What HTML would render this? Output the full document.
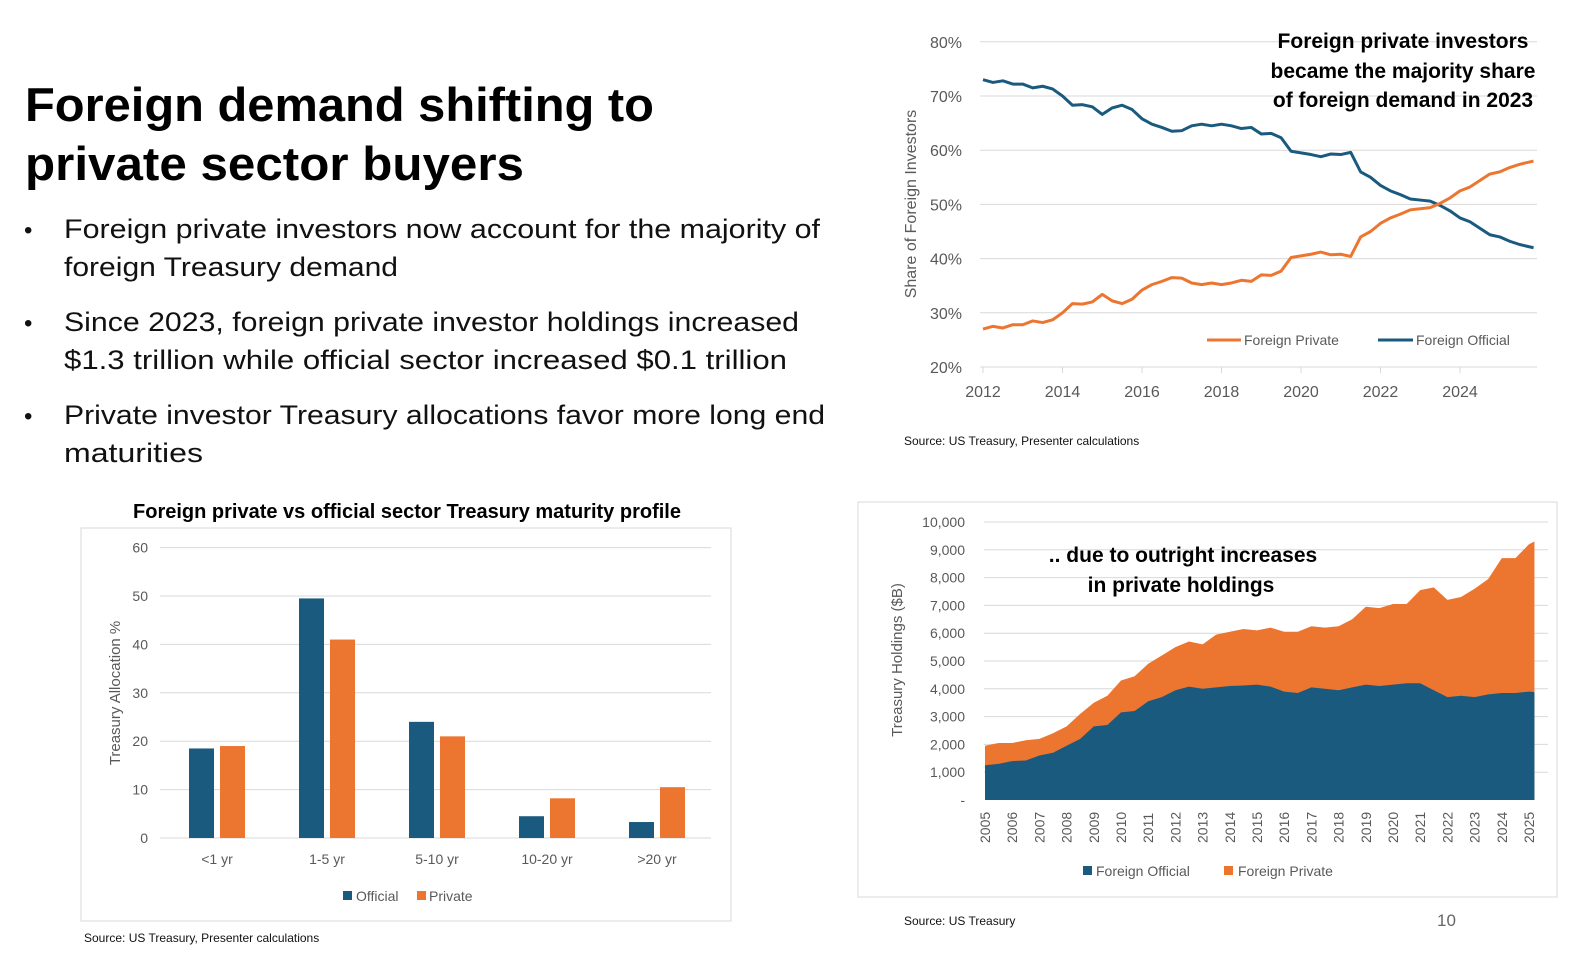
<!DOCTYPE html>
<html><head><meta charset="utf-8"><style>
html,body{margin:0;padding:0;background:#fff;}
svg{display:block;font-family:"Liberation Sans",Arial,sans-serif;}
</style></head><body>
<svg id="page" width="1582" height="960" viewBox="0 0 1582 960">
<g font-weight="bold" font-size="47" fill="#000">
<text x="25" y="121" textLength="629" lengthAdjust="spacingAndGlyphs">Foreign demand shifting to</text>
<text x="25" y="180" textLength="499" lengthAdjust="spacingAndGlyphs">private sector buyers</text>
</g>
<g font-size="27" fill="#111">
<text x="24" y="238" font-size="24">•</text>
<text x="64" y="238" textLength="756" lengthAdjust="spacingAndGlyphs">Foreign private investors now account for the majority of</text>
<text x="64" y="276" textLength="334" lengthAdjust="spacingAndGlyphs">foreign Treasury demand</text>
<text x="24" y="331" font-size="24">•</text>
<text x="64" y="331" textLength="735" lengthAdjust="spacingAndGlyphs">Since 2023, foreign private investor holdings increased</text>
<text x="64" y="369" textLength="723" lengthAdjust="spacingAndGlyphs">$1.3 trillion while official sector increased $0.1 trillion</text>
<text x="24" y="424" font-size="24">•</text>
<text x="64" y="424" textLength="761" lengthAdjust="spacingAndGlyphs">Private investor Treasury allocations favor more long end</text>
<text x="64" y="462" textLength="139" lengthAdjust="spacingAndGlyphs">maturities</text>
</g>

<g id="lineChart"></g>
<g id="barChart"></g>
<g id="areaChart"></g>
<text x="1437" y="926" font-size="17" fill="#666">10</text>
</svg>
<script>
// ---- Line chart data ----
const lineYears = [2012,2012.25,2012.5,2012.75,2013,2013.25,2013.5,2013.75,2014,2014.25,2014.5,2014.75,2015,2015.25,2015.5,2015.75,2016,2016.25,2016.5,2016.75,2017,2017.25,2017.5,2017.75,2018,2018.25,2018.5,2018.75,2019,2019.25,2019.5,2019.75,2020,2020.25,2020.5,2020.75,2021,2021.25,2021.5,2021.75,2022,2022.25,2022.5,2022.75,2023,2023.25,2023.5,2023.75,2024,2024.25,2024.5,2024.75,2025,2025.25,2025.5,2025.85];
const officialShare = [73,72.5,72.8,72.2,72.2,71.5,71.8,71.3,70,68.3,68.4,68,66.6,67.8,68.3,67.5,65.8,64.8,64.2,63.5,63.6,64.5,64.8,64.5,64.8,64.5,64.0,64.2,63.0,63.1,62.3,59.8,59.5,59.2,58.8,59.3,59.2,59.6,56.0,55.0,53.5,52.5,51.8,51.0,50.8,50.6,49.8,48.8,47.5,46.8,45.6,44.4,44.0,43.2,42.6,42.0];
const privateShare = [27,27.5,27.2,27.8,27.8,28.5,28.2,28.7,30,31.7,31.6,32,33.4,32.2,31.7,32.5,34.2,35.2,35.8,36.5,36.4,35.5,35.2,35.5,35.2,35.5,36.0,35.8,37,36.9,37.7,40.2,40.5,40.8,41.2,40.7,40.8,40.4,44,45,46.5,47.5,48.2,49,49.2,49.4,50.2,51.2,52.5,53.2,54.4,55.6,56,56.8,57.4,58];
const lineYTicks = [20,30,40,50,60,70,80];
const lineXTicks = [2012,2014,2016,2018,2020,2022,2024];

// ---- Bar chart data ----
const barCategories = ["<1 yr","1-5 yr","5-10 yr","10-20 yr",">20 yr"];
const barOfficial = [18.5,49.5,24,4.5,3.3];
const barPrivate = [19,41,21,8.2,10.5];
const barYTicks = [0,10,20,30,40,50,60];

// ---- Area chart data ----
const areaYears = [2005,2005.5,2006,2006.5,2007,2007.5,2008,2008.5,2009,2009.5,2010,2010.5,2011,2011.5,2012,2012.5,2013,2013.5,2014,2014.5,2015,2015.5,2016,2016.5,2017,2017.5,2018,2018.5,2019,2019.5,2020,2020.5,2021,2021.5,2022,2022.5,2023,2023.5,2024,2024.5,2025,2025.2];
const areaOfficial = [1250,1300,1400,1420,1600,1700,1950,2200,2650,2700,3150,3200,3550,3700,3950,4080,4000,4050,4100,4120,4150,4080,3900,3850,4050,4000,3950,4050,4150,4100,4150,4200,4200,3950,3700,3750,3700,3800,3850,3850,3900,3880];
const areaTotal = [1950,2050,2050,2150,2200,2400,2650,3100,3500,3750,4300,4450,4900,5200,5500,5700,5600,5950,6050,6150,6100,6200,6050,6050,6250,6200,6250,6500,6950,6900,7050,7050,7550,7650,7200,7300,7600,7950,8700,8700,9200,9300];
const areaYTicks = [0,1000,2000,3000,4000,5000,6000,7000,8000,9000,10000];
const areaXTicks = [2005,2006,2007,2008,2009,2010,2011,2012,2013,2014,2015,2016,2017,2018,2019,2020,2021,2022,2023,2024,2025];

const NS="http://www.w3.org/2000/svg";
const BLUE="#1a5a7e", ORANGE="#ec7630", GRID="#d9d9d9", AX="#595959";
function mk(parent,tag,attrs,text){const e=document.createElementNS(NS,tag);for(const k in attrs)e.setAttribute(k,attrs[k]);if(text!==undefined)e.textContent=text;parent.appendChild(e);return e;}

// ===== Line chart =====
(function(){
const g=document.getElementById('lineChart');
const x=v=>983+(v-2012)*39.75;
const y=v=>367-(v-20)*5.42;
lineYTicks.forEach(t=>{
 const l=mk(g,'line',{x1:980,x2:1537,y1:y(t),y2:y(t),stroke:GRID,'stroke-width':1});
 
 
 const tx=mk(g,'text',{x:962,y:y(t)+6,'text-anchor':'end','font-size':16,fill:AX},t+'%');
 
 
});
lineXTicks.forEach(t=>{
 mk(g,'line',{x1:x(t),x2:x(t),y1:367,y2:373,stroke:GRID});
 const tx=mk(g,'text',{x:x(t),y:397,'text-anchor':'middle','font-size':16,fill:AX},String(t));
 
 
});
const pO=mk(g,'polyline',{points:lineYears.map((v,i)=>x(v)+','+y(officialShare[i])).join(' '),fill:'none',stroke:BLUE,'stroke-width':3,'stroke-linejoin':'round'});


const pP=mk(g,'polyline',{points:lineYears.map((v,i)=>x(v)+','+y(privateShare[i])).join(' '),fill:'none',stroke:ORANGE,'stroke-width':3,'stroke-linejoin':'round'});


const yt=mk(g,'text',{x:0,y:0,transform:'translate(916,204) rotate(-90)','text-anchor':'middle','font-size':16,fill:AX},'Share of Foreign Investors');


const t1=mk(g,'text',{x:1403,y:48,'text-anchor':'middle','font-size':21,'font-weight':'bold',fill:'#000'},'Foreign private investors');


mk(g,'text',{x:1403,y:78,'text-anchor':'middle','font-size':21,'font-weight':'bold',fill:'#000'},'became the majority share');
mk(g,'text',{x:1403,y:107,'text-anchor':'middle','font-size':21,'font-weight':'bold',fill:'#000'},'of foreign demand in 2023');
const l1=mk(g,'g',{});


mk(l1,'line',{x1:1207,x2:1241,y1:340,y2:340,stroke:ORANGE,'stroke-width':3});
mk(l1,'text',{x:1244,y:345,'font-size':14,fill:AX},'Foreign Private');
const l2=mk(g,'g',{});


mk(l2,'line',{x1:1378,x2:1413,y1:340,y2:340,stroke:BLUE,'stroke-width':3});
mk(l2,'text',{x:1416,y:345,'font-size':14,fill:AX},'Foreign Official');
const s=mk(g,'text',{x:904,y:445,'font-size':12,fill:'#111'},'Source: US Treasury, Presenter calculations');


})();

// ===== Bar chart =====
(function(){
const g=document.getElementById('barChart');
const t=mk(g,'text',{x:407,y:518,'text-anchor':'middle','font-size':20,'font-weight':'bold',fill:'#000'},'Foreign private vs official sector Treasury maturity profile');


const box=mk(g,'rect',{x:81,y:528,width:650,height:393,fill:'none',stroke:'#d9d9d9'});


const y=v=>838-v*4.84;
const cx=i=>217+i*110;
barYTicks.forEach(v=>{
 const l=mk(g,'line',{x1:160,x2:711,y1:y(v),y2:y(v),stroke:GRID});
 
 
 const tx=mk(g,'text',{x:148,y:y(v)+5,'text-anchor':'end','font-size':14,fill:AX},String(v));
 
 
});
barCategories.forEach((c,i)=>{
 const b1=mk(g,'rect',{x:cx(i)-28,y:y(barOfficial[i]),width:25,height:838-y(barOfficial[i]),fill:BLUE});
 
 
 const b2=mk(g,'rect',{x:cx(i)+3,y:y(barPrivate[i]),width:25,height:838-y(barPrivate[i]),fill:ORANGE});
 
 
 const tx=mk(g,'text',{x:cx(i),y:864,'text-anchor':'middle','font-size':14,fill:AX},c);
 
 
});
const yt=mk(g,'text',{x:0,y:0,transform:'translate(120,693) rotate(-90)','text-anchor':'middle','font-size':15,fill:AX},'Treasury Allocation %');


const l1=mk(g,'g',{});


mk(l1,'rect',{x:343,y:891,width:9,height:9,fill:BLUE});
mk(l1,'text',{x:356,y:901,'font-size':14,fill:AX},'Official');
const l2=mk(g,'g',{});


mk(l2,'rect',{x:417,y:891,width:9,height:9,fill:ORANGE});
mk(l2,'text',{x:429,y:901,'font-size':14,fill:AX},'Private');
const s=mk(g,'text',{x:84,y:942,'font-size':12,fill:'#111'},'Source: US Treasury, Presenter calculations');


})();

// ===== Area chart =====
(function(){
const g=document.getElementById('areaChart');
const box=mk(g,'rect',{x:858,y:502,width:699,height:395,fill:'none',stroke:'#d9d9d9'});


const x=v=>985+(v-2005)*27.2;
const y=v=>800-v*0.0278;
areaYTicks.forEach(v=>{
 if(v>0){const l=mk(g,'line',{x1:984,x2:1548,y1:y(v),y2:y(v),stroke:GRID});
 
 }
 const tx=mk(g,'text',{x:965,y:y(v)+5,'text-anchor':'end','font-size':14,fill:AX},v===0?'-':v.toLocaleString('en-US'));
 
 
});
const tot=areaYears.map((v,i)=>x(v)+','+y(areaTotal[i])).join(' ');
const pa=mk(g,'polygon',{points:x(areaYears[0])+','+y(0)+' '+tot+' '+x(areaYears[areaYears.length-1])+','+y(0),fill:ORANGE});


const off=areaYears.map((v,i)=>x(v)+','+y(areaOfficial[i])).join(' ');
const po=mk(g,'polygon',{points:x(areaYears[0])+','+y(0)+' '+off+' '+x(areaYears[areaYears.length-1])+','+y(0),fill:BLUE});


areaXTicks.forEach(v=>{
 const tx=mk(g,'text',{x:0,y:0,transform:'translate('+(x(v)+5)+',843) rotate(-90)','font-size':14,fill:AX},String(v));
 
 
});
const yt=mk(g,'text',{x:0,y:0,transform:'translate(902,660) rotate(-90)','text-anchor':'middle','font-size':15,fill:AX},'Treasury Holdings ($B)');


const a=mk(g,'text',{x:1183,y:562,'text-anchor':'middle','font-size':21,'font-weight':'bold',fill:'#000'},'.. due to outright increases');


mk(g,'text',{x:1181,y:592,'text-anchor':'middle','font-size':21,'font-weight':'bold',fill:'#000'},'in private holdings');
const l1=mk(g,'g',{});


mk(l1,'rect',{x:1083,y:866,width:9,height:9,fill:BLUE});
mk(l1,'text',{x:1096,y:876,'font-size':14,fill:AX},'Foreign Official');
const l2=mk(g,'g',{});


mk(l2,'rect',{x:1224,y:866,width:9,height:9,fill:ORANGE});
mk(l2,'text',{x:1238,y:876,'font-size':14,fill:AX},'Foreign Private');
const s=mk(g,'text',{x:904,y:925,'font-size':12,fill:'#111'},'Source: US Treasury');


})();
</script>
</body></html>
